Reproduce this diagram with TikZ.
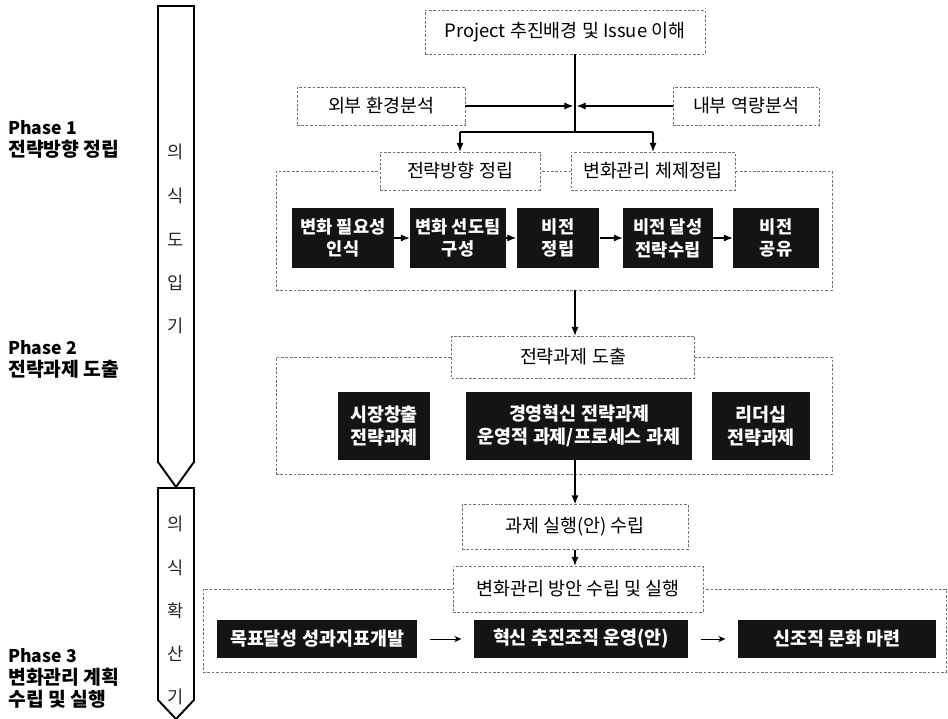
\documentclass[tikz,border=0pt]{standalone}
\usepackage{fontspec}
\setmainfont{Noto Sans CJK KR}
\usetikzlibrary{arrows.meta, positioning, calc}

\tikzset{
  dbox/.style={draw=black!55, dash pattern=on 1.5pt off 1pt, fill=white, inner sep=0pt, font=\fontsize{10.5}{12}\selectfont},
  frame/.style={draw=black!55, dash pattern=on 1.5pt off 1pt, inner sep=0pt},
  bbox/.style={fill=black!92, text=white, inner sep=0pt, align=center, font=\fontsize{10.5}{13}\selectfont\bfseries},
  arr/.style={-{Latex[length=5pt,width=4pt]}, line width=0.6pt},
  arrs/.style={-{Stealth[length=4pt,width=3.5pt]}, line width=0.5pt, shorten <=7pt, shorten >=7pt},
  phase/.style={draw, line width=1.1pt, fill=white},
  vchar/.style={font=\fontsize{10}{11}\selectfont, text=black!85},
  plabel/.style={anchor=west, align=left, inner sep=0pt, font=\fontsize{11}{12.5}\selectfont\bfseries}
}

\begin{document}
\begin{tikzpicture}[x=0.02cm, y=-0.02cm]
\useasboundingbox (0,0) rectangle (948,719);

% left side: phases
\node[plabel] (p1) at (8,139) {{\fontsize{10}{12.5}\selectfont Phase 1}\\전략방향 정립};
\node[plabel] (p2) at (8,359) {{\fontsize{10}{12.5}\selectfont Phase 2}\\전략과제 도출};
\node[plabel] (p3) at (8,678) {{\fontsize{10}{12.5}\selectfont Phase 3}\\변화관리 계획\\수립 및 실행};

\draw[phase] (158,6) -- (194,6) -- (194,462) -- (176,487) -- (158,462) -- cycle;
\draw[phase] (158,488) -- (194,488) -- (194,700) -- (176,719) -- (158,700) -- cycle;
\foreach \c/\y in {의/152, 식/196, 도/240, 입/283, 기/326}
  \node[vchar] (va\y) at (176,\y) {\c};
\foreach \c/\y in {의/524, 식/568, 확/611, 산/654, 기/697}
  \node[vchar] (vb\y) at (176,\y) {\c};

% containers
\node[frame, minimum width=11.12cm, minimum height=2.38cm] (fr1) at (554,230.5) {};
\node[frame, minimum width=11.12cm, minimum height=2.34cm] (fr2) at (554,415.5) {};
\node[frame, minimum width=14.86cm, minimum height=1.66cm] (fr3) at (574.5,630.5) {};

% top part
\node[dbox, minimum width=5.6cm, minimum height=0.88cm] (top) at (565,32) {Project 추진배경 및 Issue 이해};
\node[dbox, minimum width=3.36cm, minimum height=0.76cm] (ext) at (381,106) {외부 환경분석};
\node[dbox, minimum width=2.92cm, minimum height=0.76cm] (int) at (746,106) {내부 역량분석};
\node[dbox, minimum width=3.2cm, minimum height=0.76cm] (dir) at (460,171) {전략방향 정립};
\node[dbox, minimum width=3.28cm, minimum height=0.76cm] (chg) at (653,171) {변화관리 체제정립};

\coordinate (mid) at (575,106);
\coordinate (jn) at (575,132);
\coordinate (jl) at (460,132);
\coordinate (jr) at (653,132);
\draw[line width=0.6pt] (top.south -| jn) -- (jn);
\draw[arr] (ext.east) -- ([xshift=-1pt]mid);
\draw[arr] (int.west) -- ([xshift=1pt]mid);
\draw[line width=0.6pt] (jl) -- (jr);
\draw[arr] (jl) -- (dir.north);
\draw[arr] (jr) -- (chg.north);

% Phase 1 steps
\tikzset{step1/.style={bbox, minimum height=1.2cm, font=\fontsize{10}{13}\selectfont\bfseries}}
\node[step1, minimum width=2.04cm] (s1) at (343,238) {변화 필요성\\인식};
\node[step1, minimum width=1.92cm] (s2) at (458,238) {변화 선도팀\\구성};
\node[step1, minimum width=1.66cm] (s3) at (558,238) {비전\\정립};
\node[step1, minimum width=1.8cm] (s4) at (668,238) {비전 달성\\전략수립};
\node[step1, minimum width=1.72cm] (s5) at (776,238) {비전\\공유};
\foreach \a/\b in {s1/s2, s2/s3, s3/s4, s4/s5}
  \draw[arr] (\a.east) -- (\b.west);

% Phase 2
\node[dbox, minimum width=4.86cm, minimum height=0.84cm] (task) at (573,357) {전략과제 도출};
\draw[arr] (fr1.south -| jn) -- (task.north -| jn);
\node[bbox, minimum width=1.84cm, minimum height=1.36cm] (t1) at (384,426) {시장창출\\전략과제};
\node[bbox, minimum width=4.52cm, minimum height=1.36cm] (t2) at (579,426) {경영혁신 전략과제\\운영적 과제/프로세스 과제};
\node[bbox, minimum width=1.96cm, minimum height=1.36cm] (t3) at (761,426) {리더십\\전략과제};

% Phase 3
\node[dbox, minimum width=4.52cm, minimum height=0.9cm] (plan) at (575,527) {과제 실행(안) 수립};
\node[dbox, minimum width=5cm, minimum height=0.92cm] (exe) at (578,589) {변화관리 방안 수립 및 실행};
\draw[arr] (t2.south -| jn) -- (plan.north -| jn);
\draw[arr] (plan.south -| jn) -- (exe.north -| jn);
\node[bbox, minimum width=4cm, minimum height=0.76cm] (m1) at (317,639) {목표달성 성과지표개발};
\node[bbox, minimum width=4.28cm, minimum height=0.76cm] (m2) at (581,639) {혁신 추진조직 운영(안)};
\node[bbox, minimum width=3.96cm, minimum height=0.76cm] (m3) at (837,639) {신조직 문화 마련};
\draw[arrs] (m1.east) -- (m2.west);
\draw[arrs] (m2.east) -- (m3.west);
\end{tikzpicture}
\end{document}
